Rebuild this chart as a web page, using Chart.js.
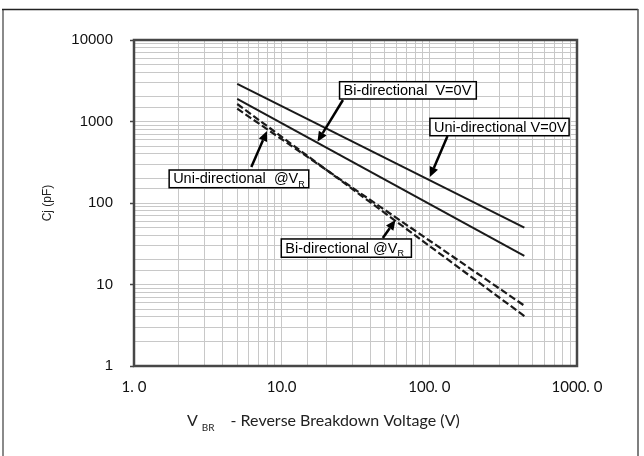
<!DOCTYPE html>
<html>
<head>
<meta charset="utf-8">
<script src="https://cdn.jsdelivr.net/npm/chart.js@4.4.1/dist/chart.umd.min.js"></script>
<style>
  html, body { margin: 0; padding: 0; background: #fff; }
  #wrap { width: 644px; height: 456px; position: relative; }
</style>
</head>
<body>
<div id="wrap"><canvas id="c" width="644" height="456"></canvas></div>
<script>
// ---- data ----
const vbr = [5, 440];                 // V_BR (V), start and end of every curve
const uniV0 = [2900, 50];             // Uni-directional V=0V (pF)
const biV0 = [1890, 22.4];            // Bi-directional V=0V (pF)
const uniVR = [1640, 4.1];            // Uni-directional @VR (pF)
const biVR = [1436, 5.5];             // Bi-directional @VR (pF)

const xTickLabels = ['1. 0', '10.0', '100. 0', '1000. 0'];
const yTickLabels = ['1', '10', '100', '1000', '10000'];

const xTitleMain = 'V';
const xTitleSub = 'BR';
const xTitleRest = '- Reverse Breakdown Voltage (V)';
const yTitle = 'Cj (pF)';

// callouts: box corners and arrow ends in data coordinates
const noteTexts = ['Bi-directional  V=0V', 'Uni-directional V=0V', 'Uni-directional  @V', 'Bi-directional @V'];
const noteSubs = ['', '', 'R', 'R'];
const noteBoxes = [[24.66, 3078, 208, 1888], [100.9, 1094, 884, 669], [1.73, 254, 15.26, 154], [9.94, 36.2, 75.6, 21.6]];
const noteFrom = [[26.0, 1836], [132.8, 664], [6.23, 276.5], [48.4, 37.2]];
const noteTo = [[17.48, 565], [100.9, 208], [7.95, 764], [58.95, 61.9]];

function pts(ys) { return vbr.map((x, i) => ({ x: x, y: ys[i] })); }
function isMajor(v) { const l = Math.log10(v); return Math.abs(l - Math.round(l)) < 1e-9; }

const deco = {
  id: 'deco',
  beforeDraw(chart) {
    const ctx = chart.ctx;
    ctx.save();
    ctx.fillStyle = '#fff';
    ctx.fillRect(0, 0, chart.width, chart.height);
    ctx.restore();
  },
  afterDatasetsDraw(chart) {
    const ctx = chart.ctx, a = chart.chartArea;
    const xs = chart.scales.x, ys = chart.scales.y;
    ctx.save();
    // plot frame
    ctx.strokeStyle = '#474747';
    ctx.lineWidth = 2.5;
    ctx.strokeRect(a.left, a.top, a.right - a.left, a.bottom - a.top);
    // callouts
    for (let i = 0; i < noteTexts.length; i++) {
      const x0 = xs.getPixelForValue(noteFrom[i][0]), y0 = ys.getPixelForValue(noteFrom[i][1]);
      const x1 = xs.getPixelForValue(noteTo[i][0]), y1 = ys.getPixelForValue(noteTo[i][1]);
      const ang = Math.atan2(y1 - y0, x1 - x0);
      const hl = 10, hw = 4.5;
      const bx = x1 - hl * Math.cos(ang), by = y1 - hl * Math.sin(ang);
      ctx.strokeStyle = '#000';
      ctx.fillStyle = '#000';
      ctx.lineWidth = 2.5;
      ctx.beginPath(); ctx.moveTo(x0, y0); ctx.lineTo(bx, by); ctx.stroke();
      ctx.beginPath();
      ctx.moveTo(x1, y1);
      ctx.lineTo(bx + hw * Math.sin(ang), by - hw * Math.cos(ang));
      ctx.lineTo(bx - hw * Math.sin(ang), by + hw * Math.cos(ang));
      ctx.closePath(); ctx.fill();

      const b = noteBoxes[i];
      const l = xs.getPixelForValue(b[0]), t = ys.getPixelForValue(b[1]);
      const r = xs.getPixelForValue(b[2]), bt = ys.getPixelForValue(b[3]);
      ctx.fillStyle = '#fff';
      ctx.fillRect(l, t, r - l, bt - t);
      ctx.lineWidth = 1.5;
      ctx.strokeStyle = '#000';
      ctx.strokeRect(l, t, r - l, bt - t);
      ctx.fillStyle = '#000';
      ctx.font = '14.5px "Liberation Sans", Arial, sans-serif';
      ctx.textBaseline = 'middle';
      ctx.textAlign = 'left';
      const cy = (t + bt) / 2 + 0.5;
      ctx.fillText(noteTexts[i], l + 4, cy);
      if (noteSubs[i]) {
        const w = ctx.measureText(noteTexts[i]).width;
        ctx.font = '9px "Liberation Sans", Arial, sans-serif';
        ctx.fillText(noteSubs[i], l + 4 + w, cy + 5);
      }
    }
    ctx.restore();
  },
  afterDraw(chart) {
    const ctx = chart.ctx, a = chart.chartArea;
    ctx.save();
    // outer frame
    ctx.strokeStyle = '#8a8a8a';
    ctx.lineWidth = 2;
    ctx.beginPath(); ctx.moveTo(3, chart.height); ctx.lineTo(3, 9); ctx.stroke();
    ctx.strokeStyle = '#222';
    ctx.lineWidth = 1.5;
    ctx.beginPath(); ctx.moveTo(2, 9.5); ctx.lineTo(638, 9.5); ctx.stroke();
    ctx.strokeStyle = '#555';
    ctx.beginPath(); ctx.moveTo(638, 9); ctx.lineTo(638, chart.height); ctx.stroke();
    // x-axis title with subscript
    ctx.fillStyle = '#222';
    ctx.textBaseline = 'middle';
    ctx.textAlign = 'left';
    let x = a.left + 53;
    const y = a.bottom + 55;
    ctx.font = '16px Lato, "Open Sans", sans-serif';
    ctx.fillText(xTitleMain, x, y);
    x += ctx.measureText(xTitleMain).width + 4;
    ctx.font = '10px Lato, "Open Sans", sans-serif';
    ctx.fillText(xTitleSub, x, y + 7);
    x += ctx.measureText(xTitleSub).width + 16;
    ctx.font = '16px Lato, "Open Sans", sans-serif';
    ctx.fillText(xTitleRest, x, y);
    ctx.restore();
  }
};

new Chart(document.getElementById('c'), {
  type: 'line',
  data: {
    datasets: [
      { label: 'Uni-directional V=0V', data: pts(uniV0), borderColor: '#1a1a1a', borderWidth: 2 },
      { label: 'Bi-directional V=0V', data: pts(biV0), borderColor: '#1a1a1a', borderWidth: 2 },
      { label: 'Uni-directional @VR', data: pts(uniVR), borderColor: '#1a1a1a', borderWidth: 2.2, borderDash: [7, 3] },
      { label: 'Bi-directional @VR', data: pts(biVR), borderColor: '#1a1a1a', borderWidth: 2.2, borderDash: [7, 3] }
    ]
  },
  options: {
    responsive: false,
    animation: false,
    devicePixelRatio: 1,
    layout: { padding: { top: 40, right: 67, bottom: 0, left: 0 } },
    elements: { point: { radius: 0 }, line: { tension: 0, fill: false } },
    plugins: { legend: { display: false }, tooltip: { enabled: false } },
    scales: {
      x: {
        type: 'logarithmic', position: 'bottom', min: 1, max: 1000,
        afterFit(s) { s.height = 90; },
        border: { display: false },
        grid: { color: '#c8c8c8', lineWidth: 1, drawTicks: false },
        ticks: {
          autoSkip: false, maxRotation: 0, padding: 12, color: '#111',
          font: { family: 'Lato, "Open Sans", sans-serif', size: 15 },
          callback(v) { return isMajor(v) ? xTickLabels[Math.round(Math.log10(v))] : ''; }
        }
      },
      y: {
        type: 'logarithmic', position: 'left', min: 1, max: 10000,
        afterFit(s) { s.width = 134; },
        border: { display: false },
        grid: {
          color: '#c8c8c8', lineWidth: 1, tickLength: 4, tickWidth: 1.5,
          tickColor(ctx) { return ctx.tick && isMajor(ctx.tick.value) ? '#444' : 'rgba(0,0,0,0)'; }
        },
        title: {
          display: true, text: yTitle, color: '#222',
          font: { family: '"Liberation Sans", Arial, sans-serif', size: 12 },
          padding: { top: 40, bottom: 0 }
        },
        ticks: {
          autoSkip: false, padding: 17, color: '#111',
          font: { family: '"Liberation Sans", Arial, sans-serif', size: 15 },
          callback(v) { return isMajor(v) ? yTickLabels[Math.round(Math.log10(v))] : ''; }
        }
      }
    }
  },
  plugins: [deco]
});
</script>
</body>
</html>
